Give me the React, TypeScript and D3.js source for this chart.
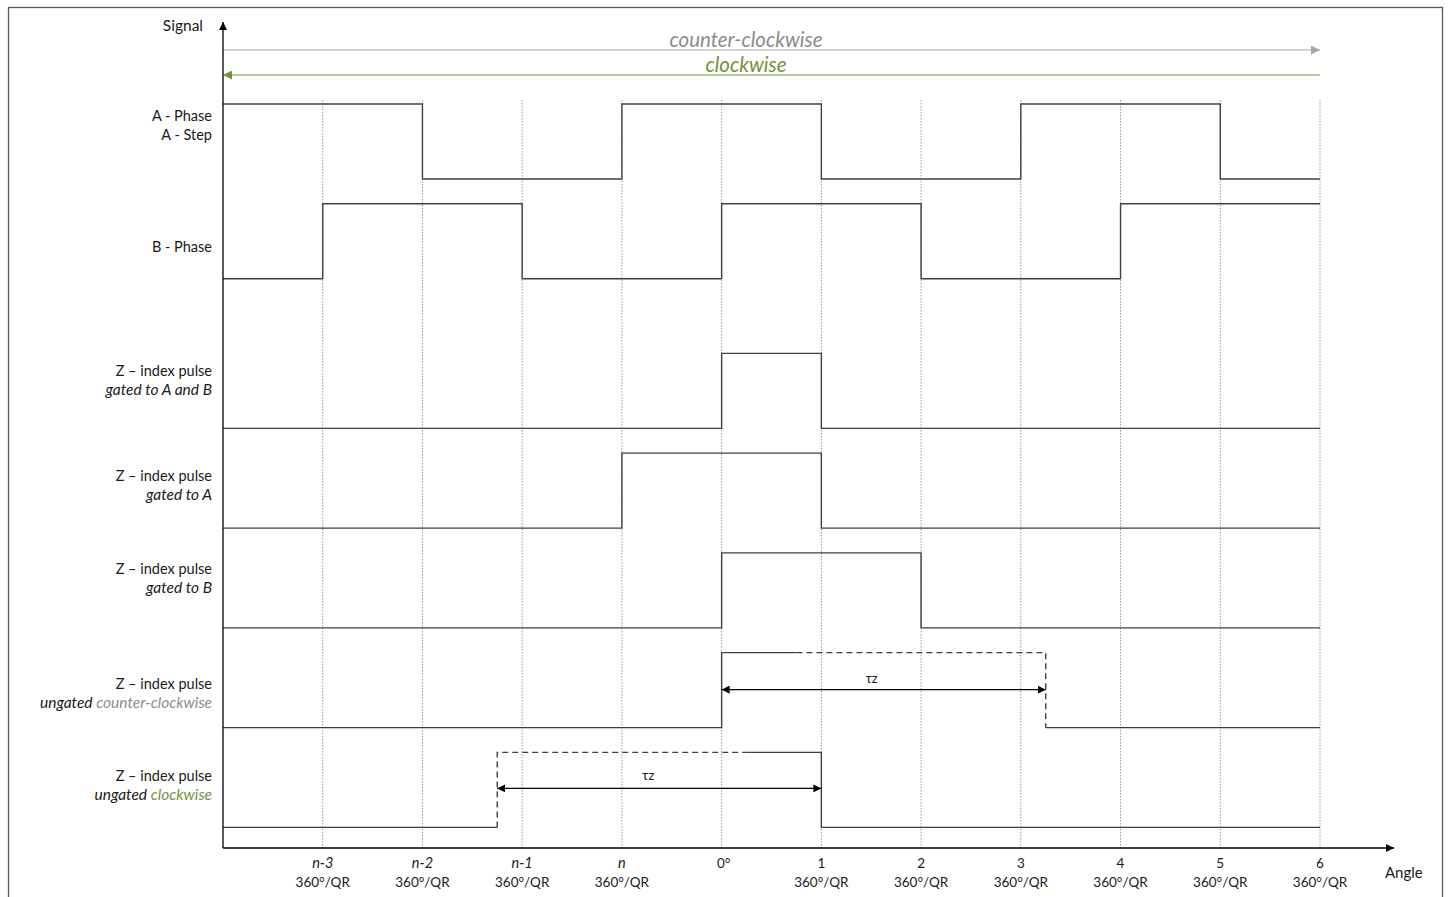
import React from 'react';
import * as d3 from 'd3';

// levels per step interval (0 = low, 1 = high), 11 intervals from the y axis to "6"
const phaseA = [1, 1, 0, 0, 1, 1, 0, 0, 1, 1, 0];
const phaseB = [0, 1, 1, 0, 0, 1, 1, 0, 0, 1, 1];
const zGatedAB = [0, 0, 0, 0, 0, 1, 0, 0, 0, 0, 0];
const zGatedA = [0, 0, 0, 0, 1, 1, 0, 0, 0, 0, 0];
const zGatedB = [0, 0, 0, 0, 0, 1, 1, 0, 0, 0, 0];

// ungated pulses in steps
const ungatedCcw = { rise: 5, solidTo: 5.75, fall: 8.25 };
const ungatedCw = { rise: 2.75, solidFrom: 5.25, fall: 6 };

const tickTop = ['n-3', 'n-2', 'n-1', 'n', '0°', '1', '2', '3', '4', '5', '6'];
const tickItalic = [true, true, true, true, false, false, false, false, false, false, false];
const tickBottom = ['360°/QR', '360°/QR', '360°/QR', '360°/QR', '', '360°/QR', '360°/QR', '360°/QR', '360°/QR', '360°/QR', '360°/QR'];

const W = 1451;
const H = 897;
const FONT = 'Lato, "Noto Sans", sans-serif';
const LINE = '#404040';
const GRAY = '#8c8c8c';
const GREEN = '#76923c';
const TXT = '#1a1a1a';

const x = d3.scaleLinear().domain([0, 11]).range([223, 1320]);
// row slot -> y of the high level
const yRow = d3.scaleLinear().domain([0, 1]).range([104, 203.75]);
const AMP = 75;

const stepLine = d3.line<[number, number]>()
  .x(d => x(d[0]))
  .y(d => d[1])
  .curve(d3.curveStepAfter);

function stepPath(levels: number[], slot: number) {
  const top = yRow(slot);
  const pts: [number, number][] = levels.map((v, i) => [i, v ? top : top + AMP]);
  pts.push([levels.length, pts[pts.length - 1][1]]);
  return stepLine(pts) || '';
}

const rows = [
  { levels: phaseA, slot: 0, labels: [['A - Phase'], ['A - Step']], dy: [12, 31] },
  { levels: phaseB, slot: 1, labels: [['B - Phase']], dy: [43] },
  { levels: zGatedAB, slot: 2.5, labels: [['Z – index pulse'], ['gated to A and B', 'i']], dy: [18, 37] },
  { levels: zGatedA, slot: 3.5, labels: [['Z – index pulse'], ['gated to A', 'i']], dy: [23, 42] },
  { levels: zGatedB, slot: 4.5, labels: [['Z – index pulse'], ['gated to B', 'i']], dy: [16, 35] },
];

const App = () => {
  const ccwTop = yRow(5.5);
  const cwTop = yRow(6.5);
  const gridIdx = d3.range(1, 12);
  const axisY = 848;

  return (
    <svg width={W} height={H} style={{ position: 'absolute', left: 0, top: 0 }} fontFamily={FONT}>
      <defs>
        <marker id="ah" viewBox="0 0 10 10" refX="10" refY="5" markerWidth="8" markerHeight="8" markerUnits="userSpaceOnUse" orient="auto-start-reverse">
          <path d="M0,0 L10,5 L0,10 z" fill="#000" />
        </marker>
        <marker id="ahGray" viewBox="0 0 10 10" refX="10" refY="5" markerWidth="9" markerHeight="9" markerUnits="userSpaceOnUse" orient="auto-start-reverse">
          <path d="M0,0 L10,5 L0,10 z" fill="#a6a6a6" />
        </marker>
        <marker id="ahGreen" viewBox="0 0 10 10" refX="10" refY="5" markerWidth="9" markerHeight="9" markerUnits="userSpaceOnUse" orient="auto-start-reverse">
          <path d="M0,0 L10,5 L0,10 z" fill={GREEN} />
        </marker>
      </defs>
      <rect x={8.5} y={7.5} width={1434} height={900} fill="#fff" stroke="#595959" strokeWidth={1.3} />

      {/* grid */}
      {gridIdx.map(i => (
        <line key={i} x1={x(i)} x2={x(i)} y1={100} y2={axisY} stroke="#9a9a9a" strokeWidth={1} strokeDasharray="1.5,1.5" />
      ))}

      {/* direction arrows */}
      <line x1={x(0)} x2={x(11)} y1={50} y2={50} stroke="#a6a6a6" strokeWidth={1.2} markerEnd="url(#ahGray)" />
      <text x={746} y={47} textAnchor="middle" fontSize={20.5} fontStyle="italic" fill={GRAY}>counter-clockwise</text>
      <line x1={x(11)} x2={x(0)} y1={75} y2={75} stroke={GREEN} strokeWidth={1.2} markerEnd="url(#ahGreen)" />
      <text x={746} y={72} textAnchor="middle" fontSize={20.5} fontStyle="italic" fill={GREEN}>clockwise</text>

      {/* gated rows */}
      {rows.map((r, k) => (
        <g key={k}>
          <path d={stepPath(r.levels, r.slot)} fill="none" stroke={LINE} strokeWidth={1.4} />
          {r.labels.map((l, j) => (
            <text key={j} x={212} y={yRow(r.slot) + r.dy[j] + 5} textAnchor="end" fontSize={l[1] ? 15.5 : 14.5} fontStyle={l[1] ? 'italic' : 'normal'} fill={TXT}>{l[0]}</text>
          ))}
        </g>
      ))}

      {/* ungated counter-clockwise */}
      <path d={`M${x(0)},${ccwTop + AMP}H${x(ungatedCcw.rise)}V${ccwTop}H${x(ungatedCcw.solidTo)}`} fill="none" stroke={LINE} strokeWidth={1.4} />
      <path d={`M${x(ungatedCcw.solidTo)},${ccwTop}H${x(ungatedCcw.fall)}V${ccwTop + AMP}`} fill="none" stroke={LINE} strokeWidth={1.4} strokeDasharray="6,4" />
      <path d={`M${x(ungatedCcw.fall)},${ccwTop + AMP}H${x(11)}`} fill="none" stroke={LINE} strokeWidth={1.4} />
      <line x1={x(ungatedCcw.rise)} x2={x(ungatedCcw.fall)} y1={ccwTop + 37} y2={ccwTop + 37} stroke="#000" strokeWidth={1.2} markerStart="url(#ah)" markerEnd="url(#ah)" />
      <text x={(x(ungatedCcw.rise) + x(ungatedCcw.fall)) / 2 - 12} y={ccwTop + 30} textAnchor="middle" fontSize={13} fill={TXT}>τz</text>
      <text x={212} y={ccwTop + 36} textAnchor="end" fontSize={14.5} fill={TXT}>Z – index pulse</text>
      <text x={212} y={ccwTop + 55} textAnchor="end" fontSize={15.5} fontStyle="italic" fill={TXT}>ungated <tspan fill={GRAY}>counter-clockwise</tspan></text>

      {/* ungated clockwise */}
      <path d={`M${x(0)},${cwTop + AMP}H${x(ungatedCw.rise)}`} fill="none" stroke={LINE} strokeWidth={1.4} />
      <path d={`M${x(ungatedCw.rise)},${cwTop + AMP}V${cwTop}H${x(ungatedCw.solidFrom)}`} fill="none" stroke={LINE} strokeWidth={1.4} strokeDasharray="6,4" />
      <path d={`M${x(ungatedCw.solidFrom)},${cwTop}H${x(ungatedCw.fall)}V${cwTop + AMP}H${x(11)}`} fill="none" stroke={LINE} strokeWidth={1.4} />
      <line x1={x(ungatedCw.rise)} x2={x(ungatedCw.fall)} y1={cwTop + 36} y2={cwTop + 36} stroke="#000" strokeWidth={1.2} markerStart="url(#ah)" markerEnd="url(#ah)" />
      <text x={(x(ungatedCw.rise) + x(ungatedCw.fall)) / 2 - 11} y={cwTop + 28} textAnchor="middle" fontSize={13} fill={TXT}>τz</text>
      <text x={212} y={cwTop + 29} textAnchor="end" fontSize={14.5} fill={TXT}>Z – index pulse</text>
      <text x={212} y={cwTop + 48} textAnchor="end" fontSize={15.5} fontStyle="italic" fill={TXT}>ungated <tspan fill={GREEN}>clockwise</tspan></text>

      {/* axes */}
      <line x1={x(0)} x2={x(0)} y1={axisY} y2={22} stroke="#000" strokeWidth={1.3} markerEnd="url(#ah)" />
      <line x1={x(0)} x2={1394} y1={axisY} y2={axisY} stroke="#000" strokeWidth={1.3} markerEnd="url(#ah)" />
      <text x={203} y={31} textAnchor="end" fontSize={15.5} fill={TXT}>Signal</text>
      <text x={1385} y={878} fontSize={15} fill={TXT}>Angle</text>

      {tickTop.map((t, i) => (
        <g key={i} transform={`translate(${x(i + 1)},0)`}>
          <text x={i === 4 ? 2 : 0} y={868} textAnchor="middle" fontSize={tickItalic[i] ? 14.5 : 13.5} fontStyle={tickItalic[i] ? 'italic' : 'normal'} fill={TXT}>{t}</text>
          <text y={887} textAnchor="middle" fontSize={13.5} fill={TXT}>{tickBottom[i]}</text>
        </g>
      ))}
    </svg>
  );
};

export default App;
